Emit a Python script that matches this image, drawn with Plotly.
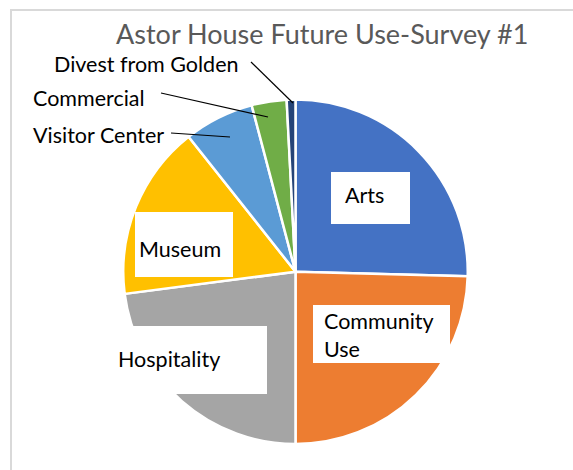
import plotly.graph_objects as go

W, H = 573, 470

categories = ["Arts", "Community Use", "Hospitality", "Museum",
              "Visitor Center", "Commercial", "Divest from Golden"]
values = [31, 30, 28, 20, 8, 4, 1]
colors = ["#4472C4", "#ED7D31", "#A5A5A5", "#FFC000",
          "#5B9BD5", "#70AD47", "#264478"]
title_text = "Astor House Future Use-Survey #1"


def px(x):
    return x / W


def py(y):
    return 1 - y / H


FONT = "Lato"
LSIZE = 21.5

fig = go.Figure()
fig.add_trace(go.Pie(
    labels=categories, values=values, sort=False, direction="clockwise",
    rotation=0, textinfo="none", hoverinfo="label+value",
    marker=dict(colors=colors, line=dict(color="white", width=2.5)),
    domain=dict(x=[px(123), px(468)], y=[py(444), py(99.5)]),
    showlegend=False,
))

shapes = []
# chart frame
shapes.append(dict(type="rect", xref="paper", yref="paper",
                   x0=px(11), x1=px(590), y0=py(490), y1=py(10),
                   line=dict(color="#D9D9D9", width=2), fillcolor="rgba(0,0,0,0)",
                   layer="below"))
# white label boxes
boxes = [(331, 172, 410, 224), (313, 305, 450, 363),
         (100, 326, 267, 394), (135, 212, 233, 277)]
for x0, y0, x1, y1 in boxes:
    shapes.append(dict(type="rect", xref="paper", yref="paper",
                       x0=px(x0), x1=px(x1), y0=py(y1), y1=py(y0),
                       fillcolor="white", line=dict(width=0), layer="above"))
# leader lines
leaders = [(251, 62, 293, 103), (161, 93, 268, 117), (171, 133, 230, 137)]
for x0, y0, x1, y1 in leaders:
    shapes.append(dict(type="line", xref="paper", yref="paper",
                       x0=px(x0), x1=px(x1), y0=py(y0), y1=py(y1),
                       line=dict(color="black", width=1.2), layer="above"))

label_pos = {
    "Arts": (343, 195),
    "Community Use": (322, 335),
    "Hospitality": (116, 359),
    "Museum": (137, 249),
    "Visitor Center": (31, 135),
    "Commercial": (31, 98),
    "Divest from Golden": (52, 64),
}
annotations = []
for name in categories:
    x, y = label_pos[name]
    txt = "Community<br>Use" if name == "Community Use" else name
    annotations.append(dict(
        text=txt, x=px(x), y=py(y), xref="paper", yref="paper",
        xanchor="left", yanchor="middle", align="left", showarrow=False,
        font=dict(family=FONT, size=LSIZE, color="black"),
    ))
annotations.append(dict(
    text=title_text, x=px(322), y=py(33), xref="paper", yref="paper",
    xanchor="center", yanchor="middle", showarrow=False,
    font=dict(family=FONT, size=27, color="#595959"),
))

fig.update_layout(
    width=W, height=H, margin=dict(l=0, r=0, t=0, b=0),
    paper_bgcolor="white", plot_bgcolor="white",
    shapes=shapes, annotations=annotations,
)
fig.write_html("out.html", config={"displayModeBar": False},
               post_script="document.body.style.margin='0px';"
                           "document.body.style.overflow='hidden';")
